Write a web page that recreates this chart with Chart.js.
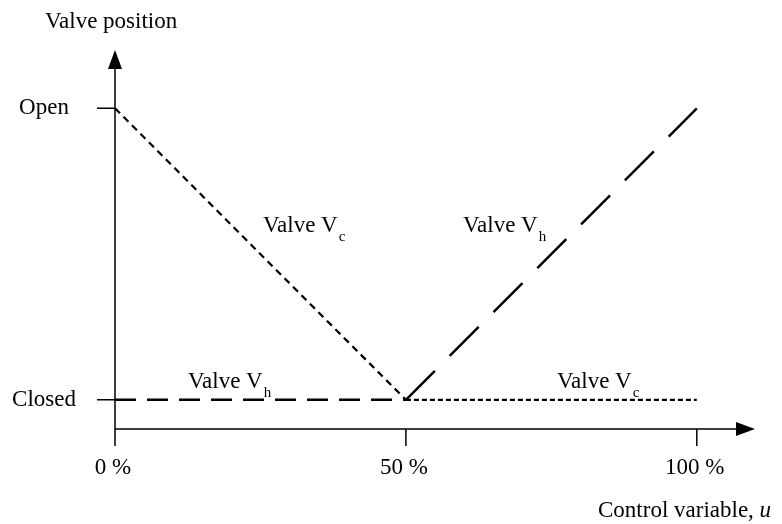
<!DOCTYPE html>
<html>
<head>
<meta charset="utf-8">
<script src="https://cdn.jsdelivr.net/npm/chart.js@4.4.1/dist/chart.umd.min.js"></script>
<style>
  html, body { margin: 0; padding: 0; background: #fff; }
  #wrap { width: 782px; height: 524px; }
</style>
</head>
<body>
<div id="wrap"><canvas id="myChart" width="782" height="524"></canvas></div>
<script>
// control variable u in %, valve position 0 = Closed, 1 = Open
const controlPct = [0, 50, 100];
const valveC = [1, 0, 0];
const valveH = [0, 0, 1];
const xTickValues = [0, 50, 100];
const xTickLabels = ['0 %', '50 %', '100 %'];
const yTickValues = [0, 1];
const yTickLabels = ['Closed', 'Open'];

const FONT = '"Liberation Serif", "Times New Roman", serif';

function toPoints(ys) {
    return controlPct.map((x, i) => ({ x: x, y: ys[i] }));
}

// the sloped parts of the lines use a longer dash than the flat parts
function dashBySlope(flat, sloped) {
    return ctx => (ctx.p0.parsed.y !== ctx.p1.parsed.y ? sloped : flat);
}

// draws arrows, ticks and the text labels like the original drawing
const axesPlugin = {
    id: 'axesPlugin',
    afterDraw(chart) {
        const ctx = chart.ctx;
        const xs = chart.scales.x;
        const ys = chart.scales.y;
        const x0 = xs.getPixelForValue(0);
        const yAxisY = chart.chartArea.bottom;
        const xEnd = chart.chartArea.right;
        const yTop = chart.chartArea.top;

        ctx.save();
        ctx.strokeStyle = '#000';
        ctx.fillStyle = '#000';
        ctx.lineWidth = 1.5;

        // axis lines
        ctx.beginPath();
        ctx.moveTo(x0, yAxisY + 17);
        ctx.lineTo(x0, yTop + 18);
        ctx.moveTo(x0, yAxisY);
        ctx.lineTo(xEnd - 18, yAxisY);
        ctx.stroke();

        // arrow heads
        ctx.beginPath();
        ctx.moveTo(x0, yTop);
        ctx.lineTo(x0 - 7, yTop + 19);
        ctx.lineTo(x0 + 7, yTop + 19);
        ctx.closePath();
        ctx.fill();
        ctx.beginPath();
        ctx.moveTo(xEnd, yAxisY);
        ctx.lineTo(xEnd - 19, yAxisY - 7);
        ctx.lineTo(xEnd - 19, yAxisY + 7);
        ctx.closePath();
        ctx.fill();

        // ticks
        ctx.beginPath();
        yTickValues.forEach(v => {
            const py = ys.getPixelForValue(v);
            ctx.moveTo(x0 - 18, py);
            ctx.lineTo(x0, py);
        });
        xTickValues.forEach(v => {
            if (v === 0) return;
            const px = xs.getPixelForValue(v);
            ctx.moveTo(px, yAxisY);
            ctx.lineTo(px, yAxisY + 17);
        });
        ctx.stroke();

        // tick labels
        ctx.font = '23px ' + FONT;
        ctx.textAlign = 'center';
        ctx.textBaseline = 'middle';
        yTickValues.forEach((v, i) => {
            ctx.fillText(yTickLabels[i], 44, ys.getPixelForValue(v));
        });
        ctx.textBaseline = 'alphabetic';
        xTickValues.forEach((v, i) => {
            ctx.fillText(xTickLabels[i], xs.getPixelForValue(v) - 2, yAxisY + 45);
        });

        // axis titles
        ctx.textAlign = 'left';
        ctx.fillText('Valve position', 45, 28);
        const t = 'Control variable, ';
        ctx.fillText(t, 598, 517);
        const w = ctx.measureText(t).width;
        ctx.font = 'italic 23px ' + FONT;
        ctx.fillText('u', 598 + w, 517);

        // line labels
        const label = (sub, px, py) => {
            ctx.font = '23px ' + FONT;
            ctx.textAlign = 'left';
            ctx.fillText('Valve V', px, py);
            const lw = ctx.measureText('Valve V').width;
            ctx.font = '15px ' + FONT;
            ctx.fillText(sub, px + lw + 1, py + 9);
        };
        label('c', 263, 232);
        label('h', 463, 232);
        label('h', 188, 388);
        label('c', 557, 388);

        ctx.restore();
    }
};

const data = {
    datasets: [
        {
            label: 'Valve Vc',
            data: toPoints(valveC),
            borderColor: '#000',
            borderWidth: 2.2,
            borderDash: [5, 3],
            segment: { borderDash: dashBySlope([5, 3], [7, 5]) },
            pointRadius: 0,
            tension: 0,
            fill: false
        },
        {
            label: 'Valve Vh',
            data: toPoints(valveH),
            borderColor: '#000',
            borderWidth: 2.5,
            borderDash: [21, 11],
            segment: { borderDash: dashBySlope([21, 11], [41, 21]) },
            pointRadius: 0,
            tension: 0,
            fill: false
        }
    ]
};

const config = {
    type: 'line',
    data: data,
    options: {
        responsive: false,
        animation: false,
        clip: false,
        layout: {
            padding: { left: 115, right: 27, top: 50, bottom: 95 }
        },
        scales: {
            x: { type: 'linear', min: 0, max: 110, display: false },
            y: { type: 'linear', min: -0.1, max: 1.2, display: false }
        },
        plugins: {
            legend: { display: false },
            tooltip: { enabled: false }
        }
    },
    plugins: [axesPlugin]
};

new Chart(document.getElementById('myChart').getContext('2d'), config);
</script>
</body>
</html>
